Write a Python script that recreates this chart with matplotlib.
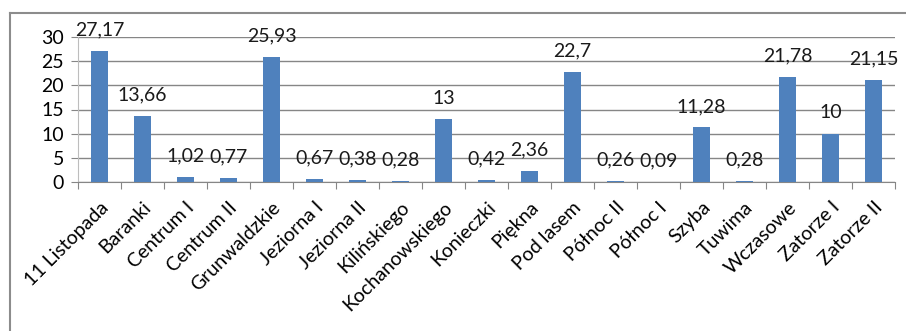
import matplotlib
matplotlib.use('agg')
import matplotlib.pyplot as plt
import numpy as np
from matplotlib.lines import Line2D

categories = ['11 Listopada', 'Baranki', 'Centrum I', 'Centrum II', 'Grunwaldzkie',
              'Jeziorna I', 'Jeziorna II', 'Kilińskiego', 'Kochanowskiego', 'Konieczki',
              'Piękna', 'Pod lasem', 'Północ II', 'Północ I', 'Szyba', 'Tuwima',
              'Wczasowe', 'Zatorze I', 'Zatorze II']
values = [27.17, 13.66, 1.02, 0.77, 25.93, 0.67, 0.38, 0.28, 13, 0.42,
          2.36, 22.7, 0.26, 0.09, 11.28, 0.28, 21.78, 10, 21.15]
yticks = [0, 5, 10, 15, 20, 25, 30]

plt.rcParams['font.family'] = ['Lato', 'DejaVu Sans']
fs = 14

fig = plt.figure(figsize=(9.06, 3.31), dpi=100)
ax = fig.add_axes([78 / 906, 1 - 182 / 331, (895 - 78) / 906, 145 / 331])

grid_color = '#868686'
x = np.arange(len(categories))
bars = ax.bar(x, values, width=0.38, color='#4F81BD', zorder=3)

labels = [('%g' % v).replace('.', ',') for v in values]
ax.bar_label(bars, labels=labels, padding=9, fontsize=fs, color='#1a1a1a')

ax.set_xlim(-0.5, len(categories) - 0.5)
ax.set_ylim(0, 30)
ax.set_yticks(yticks)
ax.set_yticklabels([str(t) for t in yticks], fontsize=fs)
ax.yaxis.grid(True, color=grid_color, linewidth=1)
ax.set_axisbelow(True)

# category boundaries get the tick marks, labels sit at bar centres
ax.set_xticks(np.arange(len(categories) + 1) - 0.5)
ax.set_xticklabels([])
ax.set_xticks(x, minor=True)
ax.set_xticklabels(categories, minor=True, rotation=45, ha='right',
                   rotation_mode='anchor', fontsize=fs)
ax.tick_params(axis='x', which='minor', length=0, pad=12)
ax.tick_params(axis='x', which='major', length=5, color=grid_color)
ax.tick_params(axis='y', length=5, color=grid_color, pad=5)

for s in ['top', 'right']:
    ax.spines[s].set_visible(False)
ax.spines['left'].set_color('#bdbdbd')
ax.spines['bottom'].set_color(grid_color)

# outer chart border (only top and left visible in the crop)
fig.add_artist(Line2D([10 / 906, 10 / 906], [0, 1 - 13 / 331], color='#8c8c8c', lw=1.5,
                      transform=fig.transFigure))
fig.add_artist(Line2D([10 / 906, 1], [1 - 13 / 331, 1 - 13 / 331], color='#8c8c8c', lw=1.5,
                      transform=fig.transFigure))

plt.savefig('out.png', dpi=100)
